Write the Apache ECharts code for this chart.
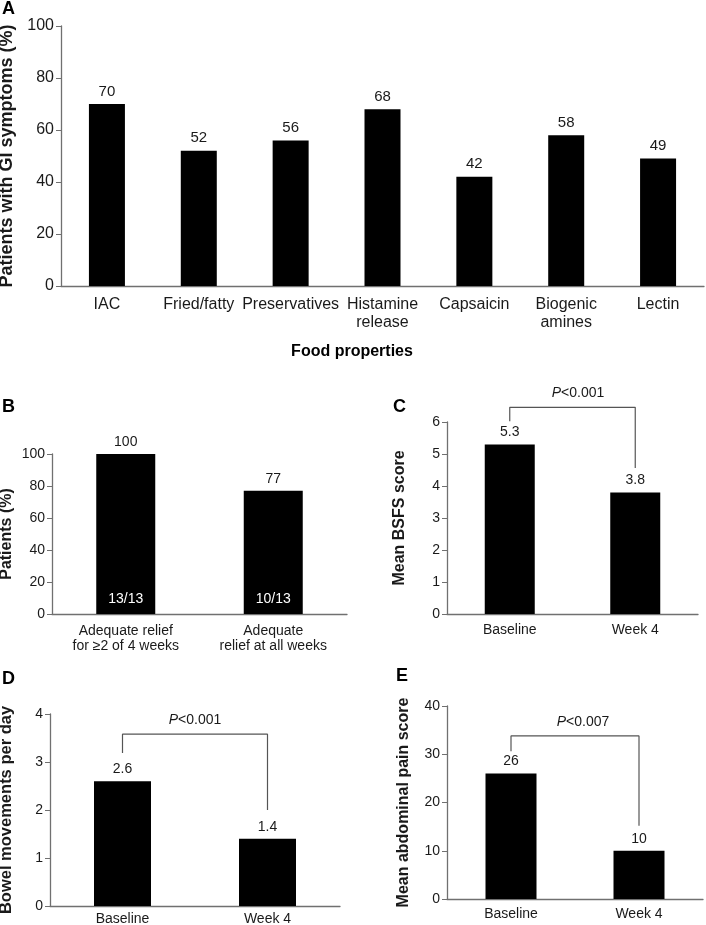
<!DOCTYPE html>
<html>
<head>
<meta charset="utf-8">
<script src="https://cdn.jsdelivr.net/npm/echarts@6/dist/echarts.min.js"></script>
<style>html,body{margin:0;padding:0;background:#fff}#c{width:706px;height:925px}</style>
</head>
<body>
<div id="c"></div>
<script>
// ---- Data ----
const catsA = ['IAC', 'Fried/fatty', 'Preservatives', 'Histamine\nrelease', 'Capsaicin', 'Biogenic\namines', 'Lectin'];
const valsA = [70, 52, 56, 68, 42, 58, 49];
const labelsA = ['70', '52', '56', '68', '42', '58', '49'];

const catsB = ['Adequate relief\nfor \u22652 of 4 weeks', 'Adequate\nrelief at all weeks'];
const valsB = [100, 77];
const countsB = ['13/13', '10/13'];

const catsC = ['Baseline', 'Week 4'];
const valsC = [5.3, 3.8];
const bracketC = [[0, 6.02], [0, 6.46], [1, 6.46], [1, 4.56]];

const catsD = ['Baseline', 'Week 4'];
const valsD = [2.6, 1.4];
const bracketD = [[0, 3.19], [0, 3.58], [1, 3.58], [1, 2.0]];

const catsE = ['Baseline', 'Week 4'];
const valsE = [26, 10];
const bracketE = [[0, 30.6], [0, 33.8], [1, 33.8], [1, 15.2]];

const pTexts = ['P<0.001', 'P<0.001', 'P<0.007'];

// ---- Styling ----
const FONT = 'Liberation Sans, Arial, sans-serif';
const TXT = '#1a1a1a';
const AX = '#707070';

const chart = echarts.init(document.getElementById('c'), null, {renderer: 'canvas'});

function gridAt(l, t, w, h) {
  return {left: l, top: t, width: w, height: h, containLabel: false, outerBoundsMode: 'none'};
}
function xAx(grid, cats, size, margin, lh) {
  return {
    type: 'category', gridIndex: grid, data: cats,
    axisLine: {lineStyle: {color: AX, width: 1.3}},
    axisTick: {show: false},
    axisLabel: {color: TXT, fontFamily: FONT, fontSize: size, margin: margin, lineHeight: lh, interval: 0, hideOverlap: false}
  };
}
function yAx(grid, max, interval, name, nameSize, gap, labSize) {
  return {
    type: 'value', gridIndex: grid, min: 0, max: max, interval: interval,
    name: name, nameLocation: 'middle', nameGap: gap,
    nameTextStyle: {color: TXT, fontFamily: FONT, fontWeight: 'bold', fontSize: nameSize},
    axisLine: {show: true, lineStyle: {color: AX, width: 1.3}},
    axisTick: {show: true, length: 5, lineStyle: {color: AX}},
    axisLabel: {color: TXT, fontFamily: FONT, fontSize: labSize, margin: 7},
    splitLine: {show: false}
  };
}
function bar(idx, vals, w, size, dist) {
  return {
    type: 'bar', xAxisIndex: idx, yAxisIndex: idx, data: vals, barWidth: w,
    itemStyle: {color: '#000'},
    label: {show: true, position: 'top', distance: dist, color: TXT, fontFamily: FONT, fontSize: size},
    silent: true, animation: false
  };
}
function bracket(idx, pts) {
  return {
    type: 'line', xAxisIndex: idx, yAxisIndex: idx, data: pts, clip: false,
    symbol: 'none', lineStyle: {color: '#555', width: 1.2}, silent: true, animation: false, z: 5
  };
}

const letterStyle = {font: 'bold 18px ' + FONT, fill: '#000'};
function letter(t, x, y) { return {type: 'text', x: x, y: y, style: Object.assign({text: t}, letterStyle)}; }
function ptext(t, x, y) {
  return {type: 'text', x: x, y: y, style: {
    text: '{i|P}' + t.slice(1), align: 'center', verticalAlign: 'middle',
    font: '14px ' + FONT, fill: TXT,
    rich: {i: {fontStyle: 'italic', fontSize: 14, fontFamily: FONT, color: TXT}}
  }};
}

const option = {
  animation: false,
  backgroundColor: '#fff',
  grid: [
    gridAt(61, 26, 643, 260),
    gridAt(52, 454, 295, 160),
    gridAt(447, 422, 251, 192),
    gridAt(50, 714, 290, 192),
    gridAt(447, 706, 256, 193)
  ],
  xAxis: [
    xAx(0, catsA, 16, 10, 18),
    xAx(1, catsB, 14, 10, 15),
    xAx(2, catsC, 14, 9, 15),
    xAx(3, catsD, 14, 6, 15),
    xAx(4, catsE, 14, 8, 15)
  ],
  yAxis: [
    yAx(0, 100, 20, 'Patients with GI symptoms (%)', 18, 42, 16),
    yAx(1, 100, 20, 'Patients (%)', 16, 37, 14),
    yAx(2, 6, 1, 'Mean BSFS score', 16, 39, 14),
    yAx(3, 4, 1, 'Bowel movements per day', 16.5, 35, 14),
    yAx(4, 40, 10, 'Mean abdominal pain score', 16, 35, 14)
  ],
  series: [
    Object.assign(bar(0, valsA, 36, 15, 5), {label: {show: true, position: 'top', distance: 5, color: TXT, fontFamily: FONT, fontSize: 15, formatter: p => labelsA[p.dataIndex]}}),
    bar(1, valsB, 59, 14, 5),
    {
      type: 'bar', xAxisIndex: 1, yAxisIndex: 1, data: valsB, barWidth: 59, barGap: '-100%',
      itemStyle: {color: 'rgba(0,0,0,0)'}, silent: true, animation: false, z: 6,
      label: {show: true, position: 'insideBottom', distance: 8, color: '#fff', fontFamily: FONT, fontSize: 14,
        formatter: p => countsB[p.dataIndex]}
    },
    bar(2, valsC, 50, 14, 5),
    bar(3, valsD, 57, 14, 5),
    bar(4, valsE, 51, 14, 5),
    bracket(2, bracketC),
    bracket(3, bracketD),
    bracket(4, bracketE)
  ],
  graphic: [
    letter('A', 2, 0),
    letter('B', 2, 398),
    letter('C', 393, 398),
    letter('D', 2, 670),
    letter('E', 396, 667),
    {type: 'text', x: 352, y: 352, style: {text: 'Food properties', align: 'center', verticalAlign: 'middle', font: 'bold 16px ' + FONT, fill: '#000'}},
    ptext(pTexts[0], 578, 393),
    ptext(pTexts[1], 195, 720),
    ptext(pTexts[2], 583, 722)
  ]
};
chart.setOption(option);
</script>
</body>
</html>
